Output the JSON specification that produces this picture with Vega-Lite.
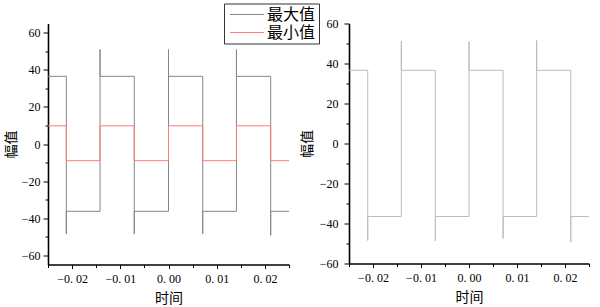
{
  "$schema": "https://vega.github.io/schema/vega-lite/v6.json",
  "background": "white",
  "padding": {"left": 4, "top": 2.5, "right": 0, "bottom": 0},
  "spacing": 9,
  "datasets": {
    "left": [
      {"i": 1, "series": "最大值", "t": -0.025, "v": 36.5},
      {"i": 2, "series": "最大值", "t": -0.0212, "v": 36.5},
      {"i": 3, "series": "最大值", "t": -0.0212, "v": -48.5},
      {"i": 4, "series": "最大值", "t": -0.0212, "v": -36.3},
      {"i": 5, "series": "最大值", "t": -0.0142, "v": -36.3},
      {"i": 6, "series": "最大值", "t": -0.0142, "v": 51},
      {"i": 7, "series": "最大值", "t": -0.0142, "v": 36.5},
      {"i": 8, "series": "最大值", "t": -0.0071, "v": 36.5},
      {"i": 9, "series": "最大值", "t": -0.0071, "v": -48.5},
      {"i": 10, "series": "最大值", "t": -0.0071, "v": -36.3},
      {"i": 11, "series": "最大值", "t": 0.0, "v": -36.3},
      {"i": 12, "series": "最大值", "t": 0.0, "v": 51},
      {"i": 13, "series": "最大值", "t": 0.0, "v": 36.5},
      {"i": 14, "series": "最大值", "t": 0.0071, "v": 36.5},
      {"i": 15, "series": "最大值", "t": 0.0071, "v": -48.5},
      {"i": 16, "series": "最大值", "t": 0.0071, "v": -36.3},
      {"i": 17, "series": "最大值", "t": 0.0141, "v": -36.3},
      {"i": 18, "series": "最大值", "t": 0.0141, "v": 51},
      {"i": 19, "series": "最大值", "t": 0.0141, "v": 36.5},
      {"i": 20, "series": "最大值", "t": 0.0212, "v": 36.5},
      {"i": 21, "series": "最大值", "t": 0.0212, "v": -49.3},
      {"i": 22, "series": "最大值", "t": 0.0212, "v": -36.3},
      {"i": 23, "series": "最大值", "t": 0.025, "v": -36.3},
      {"i": 31, "series": "最小值", "t": -0.025, "v": 9.8},
      {"i": 32, "series": "最小值", "t": -0.0212, "v": 9.8},
      {"i": 33, "series": "最小值", "t": -0.0212, "v": -9.0},
      {"i": 34, "series": "最小值", "t": -0.0142, "v": -9.0},
      {"i": 35, "series": "最小值", "t": -0.0142, "v": 9.8},
      {"i": 36, "series": "最小值", "t": -0.0071, "v": 9.8},
      {"i": 37, "series": "最小值", "t": -0.0071, "v": -9.0},
      {"i": 38, "series": "最小值", "t": 0.0, "v": -9.0},
      {"i": 39, "series": "最小值", "t": 0.0, "v": 9.8},
      {"i": 40, "series": "最小值", "t": 0.0071, "v": 9.8},
      {"i": 41, "series": "最小值", "t": 0.0071, "v": -9.0},
      {"i": 42, "series": "最小值", "t": 0.0141, "v": -9.0},
      {"i": 43, "series": "最小值", "t": 0.0141, "v": 9.8},
      {"i": 44, "series": "最小值", "t": 0.0212, "v": 9.8},
      {"i": 45, "series": "最小值", "t": 0.0212, "v": -9.0},
      {"i": 46, "series": "最小值", "t": 0.025, "v": -9.0}
    ],
    "right": [
      {"i": 1, "t": -0.025, "v": 36.6},
      {"i": 2, "t": -0.0211, "v": 36.6},
      {"i": 3, "t": -0.0211, "v": -48.5},
      {"i": 4, "t": -0.0211, "v": -36.5},
      {"i": 5, "t": -0.0141, "v": -36.5},
      {"i": 6, "t": -0.0141, "v": 51.2},
      {"i": 7, "t": -0.0141, "v": 36.6},
      {"i": 8, "t": -0.0070, "v": 36.6},
      {"i": 9, "t": -0.0070, "v": -48.8},
      {"i": 10, "t": -0.0070, "v": -36.5},
      {"i": 11, "t": 0.0, "v": -36.5},
      {"i": 12, "t": 0.0, "v": 50.9},
      {"i": 13, "t": 0.0, "v": 36.6},
      {"i": 14, "t": 0.0071, "v": 36.6},
      {"i": 15, "t": 0.0071, "v": -47.5},
      {"i": 16, "t": 0.0071, "v": -36.5},
      {"i": 17, "t": 0.0141, "v": -36.5},
      {"i": 18, "t": 0.0141, "v": 51.5},
      {"i": 19, "t": 0.0141, "v": 36.6},
      {"i": 20, "t": 0.0212, "v": 36.6},
      {"i": 21, "t": 0.0212, "v": -49.3},
      {"i": 22, "t": 0.0212, "v": -36.5},
      {"i": 23, "t": 0.025, "v": -36.5}
    ]
  },
  "config": {
    "view": {"stroke": null},
    "axis": {
      "grid": false,
      "domainColor": "black",
      "domainWidth": 1.6,
      "tickColor": "black",
      "tickWidth": 1,
      "labelFont": "Liberation Serif",
      "labelFontSize": 12,
      "labelColor": "black",
      "labelOverlap": false,
      "titleFont": "Noto Sans CJK SC",
      "titleFontSize": 14,
      "titleFontWeight": "normal",
      "titleColor": "black"
    },
    "legend": {
      "orient": "none",
      "legendX": 176,
      "legendY": -20,
      "strokeColor": "#333",
      "padding": 3,
      "symbolType": "M-1,0H5.8",
      "symbolSize": 100,
      "symbolStrokeWidth": 1,
      "labelFont": "Noto Sans CJK SC",
      "labelFontSize": 16,
      "labelColor": "black",
      "labelOffset": 24,
      "rowPadding": 2
    }
  },
  "hconcat": [
    {
      "width": 241,
      "height": 241,
      "data": {"name": "left"},
      "mark": {"type": "line", "strokeWidth": 1, "interpolate": "linear"},
      "encoding": {
        "x": {
          "field": "t", "type": "quantitative",
          "scale": {"domain": [-0.025, 0.025], "nice": false, "zero": false},
          "axis": {
            "title": "时间",
            "values": [-0.025, -0.02, -0.015, -0.01, -0.005, 0, 0.005, 0.01, 0.015, 0.02, 0.025],
            "labelExpr": "abs(datum.value*100 - round(datum.value*100)) < 0.01 ? replace(format(datum.value, '.2f'), '.', '. ') : ''",
            "tickSize": {"condition": {"test": "abs(datum.value*100 - round(datum.value*100)) < 0.01", "value": 4}, "value": 3},
            "labelPadding": 5,
            "titlePadding": 7
          }
        },
        "y": {
          "field": "v", "type": "quantitative",
          "scale": {"domain": [-65, 65], "nice": false, "zero": false},
          "axis": {
            "title": "幅值",
            "values": [-60, -50, -40, -30, -20, -10, 0, 10, 20, 30, 40, 50, 60],
            "labelExpr": "datum.value % 20 == 0 ? format(datum.value, 'd') : ''",
            "tickSize": {"condition": {"test": "datum.value % 20 == 0", "value": 5}, "value": 3},
            "labelPadding": 3,
            "titlePadding": 3
          }
        },
        "color": {
          "field": "series", "type": "nominal",
          "scale": {"domain": ["最大值", "最小值"], "range": ["#858585", "#ff7a7a"]},
          "legend": {"title": null}
        },
        "order": {"field": "i", "type": "quantitative"}
      }
    },
    {
      "width": 240,
      "height": 240,
      "data": {"name": "right"},
      "mark": {"type": "line", "strokeWidth": 1, "color": "#bcbcbc"},
      "encoding": {
        "x": {
          "field": "t", "type": "quantitative",
          "scale": {"domain": [-0.025, 0.025], "nice": false, "zero": false},
          "axis": {
            "title": "时间",
            "values": [-0.025, -0.02, -0.015, -0.01, -0.005, 0, 0.005, 0.01, 0.015, 0.02, 0.025],
            "labelExpr": "abs(datum.value*100 - round(datum.value*100)) < 0.01 ? replace(format(datum.value, '.2f'), '.', '. ') : ''",
            "tickSize": {"condition": {"test": "abs(datum.value*100 - round(datum.value*100)) < 0.01", "value": 4}, "value": 3},
            "labelPadding": 5,
            "titlePadding": 7
          }
        },
        "y": {
          "field": "v", "type": "quantitative",
          "scale": {"domain": [-60, 60], "nice": false, "zero": false},
          "axis": {
            "title": "幅值",
            "values": [-60, -50, -40, -30, -20, -10, 0, 10, 20, 30, 40, 50, 60],
            "labelExpr": "datum.value % 20 == 0 ? format(datum.value, 'd') : ''",
            "tickSize": {"condition": {"test": "datum.value % 20 == 0", "value": 5}, "value": 3},
            "labelPadding": 6,
            "titlePadding": 5
          }
        },
        "order": {"field": "i", "type": "quantitative"}
      }
    }
  ]
}
